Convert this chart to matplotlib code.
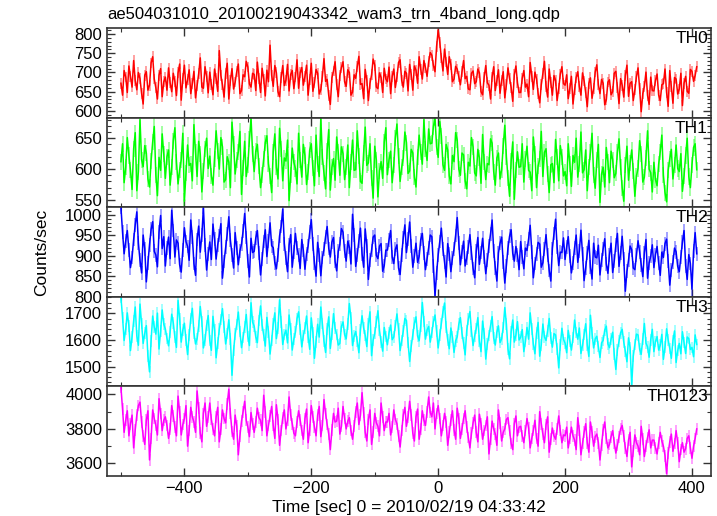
"""
WAM light curve, 4 energy bands plus the sum (QDP style stacked panels).
"""

import numpy as np
import matplotlib
matplotlib.use("Agg")
import matplotlib.pyplot as plt
from matplotlib.ticker import MultipleLocator


# =========================
# Data (2.5 s bins)
# =========================
T_START = -500
T_STEP = 2.5
TITLE = "ae504031010_20100219043342_wam3_trn_4band_long.qdp"
XLABEL = "Time [sec] 0 = 2010/02/19 04:33:42"
YLABEL = "Counts/sec"

TH0 = [
    672, 641, 705, 688, 648, 717, 690, 662, 731, 679, 655, 700, 684, 646,
    618, 693, 702, 654, 667, 725, 741, 683, 660, 631, 693, 710, 637, 676,
    688, 654, 712, 673, 650, 698, 676, 640, 699, 722, 628, 685, 719, 660,
    681, 707, 645, 671, 703, 634, 666, 697, 738, 662, 659, 715, 690, 647,
    701, 668, 642, 709, 684, 651, 757, 692, 668, 636, 697, 724, 631, 679,
    710, 657, 675, 702, 722, 645, 653, 694, 689, 729, 714, 670, 662, 698,
    695, 653, 727, 684, 648, 711, 683, 639, 706, 676, 771, 693, 664, 718,
    699, 650, 637, 687, 718, 666, 680, 721, 652, 695, 705, 658, 688, 733,
    659, 700, 713, 667, 690, 719, 641, 682, 724, 651, 673, 708, 698, 644,
    655, 690, 736, 677, 682, 640, 617, 686, 704, 728, 669, 637, 692, 713,
    728, 676, 664, 707, 700, 641, 649, 694, 685, 716, 742, 669, 671, 632,
    708, 680, 627, 672, 694, 735, 719, 662, 658, 699, 687, 648, 711, 683,
    676, 714, 645, 690, 709, 661, 688, 726, 733, 679, 662, 703, 698, 652,
    721, 695, 654, 717, 706, 672, 741, 708, 683, 731, 712, 690, 728, 752,
    745, 718, 702, 768, 810, 779, 738, 704, 761, 727, 695, 741, 720, 676,
    683, 716, 709, 689, 668, 702, 731, 684, 690, 657, 655, 698, 704, 671,
    676, 709, 699, 650, 642, 688, 718, 673, 667, 631, 688, 715, 653, 679,
    707, 646, 679, 702, 634, 668, 712, 684, 661, 625, 694, 717, 673, 648,
    648, 685, 705, 662, 670, 637, 726, 690, 656, 701, 683, 645, 621, 668,
    697, 729, 664, 636, 709, 673, 641, 692, 680, 627, 659, 696, 715, 671,
    667, 694, 632, 659, 690, 618, 655, 687, 702, 664, 641, 699, 678, 647,
    611, 672, 686, 633, 658, 701, 720, 668, 645, 682, 672, 616, 629, 675,
    681, 642, 650, 698, 703, 661, 619, 684, 667, 636, 693, 719, 638, 672,
    676, 627, 655, 689, 712, 658, 598, 645, 664, 701, 640, 617, 688, 653,
    652, 679, 696, 641, 627, 668, 671, 709, 648, 612, 705, 663, 620, 687,
    683, 644, 657, 698, 614, 672, 690, 651, 646, 708, 703, 677, 692, 715,
]
TH1 = [
    612, 641, 578, 603, 651, 622, 598, 567, 633, 659, 565, 596, 680, 615,
    604, 638, 626, 584, 571, 613, 644, 669, 590, 557, 619, 598, 657, 624,
    585, 620, 631, 574, 603, 646, 667, 612, 576, 599, 615, 658, 548, 593,
    639, 606, 609, 581, 672, 627, 588, 645, 624, 563, 597, 633, 650, 601,
    621, 589, 574, 617, 662, 630, 600, 651, 636, 579, 583, 620, 611, 570,
    676, 641, 592, 614, 628, 661, 559, 602, 645, 588, 607, 648, 683, 625,
    596, 629, 640, 605, 570, 591, 617, 643, 654, 609, 589, 562, 628, 657,
    603, 584, 666, 632, 581, 618, 613, 647, 549, 590, 634, 611, 601, 576,
    658, 614, 587, 640, 622, 575, 596, 631, 641, 602, 573, 655, 609, 588,
    683, 619, 594, 568, 630, 664, 566, 603, 617, 582, 652, 627, 590, 636,
    625, 583, 604, 639, 570, 611, 647, 598, 599, 662, 621, 580, 577, 626,
    668, 606, 610, 641, 586, 553, 637, 615, 555, 597, 612, 585, 644, 667,
    591, 615, 629, 578, 606, 650, 673, 621, 580, 603, 618, 660, 643, 593,
    597, 632, 626, 587, 571, 619, 655, 628, 608, 680, 632, 614, 665, 641,
    642, 669, 683, 636, 619, 677, 654, 607, 598, 640, 631, 589, 576, 622,
    612, 659, 647, 600, 590, 626, 623, 581, 568, 611, 605, 651, 636, 594,
    589, 632, 618, 577, 656, 612, 583, 609, 607, 649, 642, 596, 574, 618,
    626, 584, 599, 637, 671, 620, 586, 556, 613, 644, 551, 598, 628, 603,
    604, 641, 579, 616, 637, 598, 595, 565, 652, 624, 570, 605, 616, 661,
    588, 627, 633, 592, 562, 607, 609, 578, 648, 619, 581, 638, 620, 589,
    596, 573, 641, 609, 572, 622, 611, 650, 587, 608, 660, 594, 599, 631,
    565, 604, 627, 658, 590, 569, 614, 640, 546, 592, 603, 571, 635, 612,
    578, 629, 615, 586, 593, 627, 649, 603, 570, 548, 606, 637, 582, 610,
    631, 597, 556, 589, 601, 646, 625, 579, 587, 618, 662, 600, 594, 563,
    611, 583, 573, 608, 628, 655, 590, 562, 547, 598, 617, 632, 584, 606,
    639, 601, 596, 625, 564, 589, 622, 650, 588, 570, 607, 635, 641, 599,
]
TH2 = [
    1019, 958, 905, 937, 962, 914, 871, 896, 940, 976, 1008, 931, 889, 858,
    951, 917, 836, 882, 927, 965, 984, 911, 902, 873, 958, 999, 918, 947,
    875, 920, 946, 893, 1012, 962, 897, 939, 931, 878, 860, 915, 969, 935,
    923, 889, 988, 947, 881, 852, 940, 973, 909, 951, 1019, 926, 865, 904,
    934, 891, 978, 941, 892, 927, 950, 979, 845, 886, 921, 954, 996, 938,
    903, 870, 957, 919, 878, 912, 929, 961, 1004, 945, 887, 848, 943, 908,
    911, 944, 962, 907, 853, 892, 935, 964, 898, 937, 981, 925, 920, 883,
    868, 903, 949, 972, 1015, 930, 894, 861, 926, 952, 872, 910, 955, 919,
    901, 869, 940, 913, 867, 905, 924, 958, 989, 929, 882, 850, 933, 902,
    851, 896, 916, 947, 972, 918, 897, 934, 945, 886, 863, 911, 928, 967,
    958, 912, 887, 936, 921, 880, 1002, 951, 874, 903, 937, 968, 905, 872,
    966, 925, 842, 889, 913, 946, 951, 901, 893, 924, 930, 862, 876, 914,
    914, 939, 962, 897, 881, 916, 927, 870, 854, 903, 945, 976, 908, 941,
    983, 924, 872, 899, 931, 884, 898, 940, 955, 906, 866, 893, 920, 951,
    947, 876, 801, 858, 902, 935, 968, 917, 885, 848, 930, 904, 861, 895,
    917, 950, 994, 931, 878, 910, 936, 875, 894, 921, 952, 907, 869, 846,
    912, 945, 879, 908, 943, 897, 856, 889, 925, 954, 988, 912, 871, 838,
    907, 931, 946, 884, 833, 876, 919, 948, 964, 906, 887, 923, 901, 866,
    935, 897, 868, 919, 913, 941, 975, 910, 846, 881, 904, 933, 929, 872,
    883, 917, 952, 902, 864, 838, 918, 955, 990, 921, 876, 909, 908, 944,
    891, 922, 947, 899, 858, 883, 920, 951, 884, 912, 963, 905, 839, 871,
    906, 938, 872, 843, 931, 897, 895, 926, 853, 889, 917, 942, 880, 857,
    902, 931, 859, 887, 926, 955, 874, 906, 948, 893, 813, 862, 889, 924,
    915, 870, 866, 901, 937, 910, 878, 849, 908, 940, 845, 883, 899, 927,
    871, 903, 923, 882, 852, 909, 896, 930, 941, 887, 828, 866, 884, 919,
    910, 874, 861, 898, 934, 962, 876, 842, 903, 881, 818, 912, 957, 905,
]
TH3 = [
    1760, 1685, 1598, 1641, 1702, 1653, 1560, 1612, 1671, 1724, 1615, 1580, 1735, 1662,
    1587, 1625, 1654, 1539, 1480, 1597, 1690, 1648, 1622, 1701, 1566, 1634, 1713, 1659,
    1641, 1606, 1578, 1630, 1697, 1664, 1610, 1572, 1749, 1680, 1592, 1637, 1663, 1599,
    1545, 1618, 1681, 1719, 1627, 1585, 1604, 1652, 1726, 1669, 1570, 1601, 1655, 1692,
    1598, 1561, 1689, 1637, 1533, 1588, 1640, 1677, 1718, 1649, 1585, 1624, 1676, 1603,
    1467, 1560, 1622, 1658, 1705, 1632, 1571, 1609, 1648, 1696, 1613, 1579, 1740, 1667,
    1652, 1611, 1590, 1673, 1728, 1656, 1618, 1577, 1685, 1631, 1547, 1598, 1660, 1702,
    1605, 1645, 1751, 1668, 1583, 1620, 1637, 1589, 1694, 1641, 1562, 1603, 1629, 1680,
    1706, 1639, 1574, 1617, 1645, 1690, 1612, 1565, 1683, 1628, 1531, 1593, 1659, 1611,
    1724, 1662, 1596, 1553, 1641, 1687, 1568, 1622, 1699, 1644, 1620, 1581, 1587, 1651,
    1668, 1620, 1604, 1659, 1737, 1682, 1579, 1614, 1632, 1594, 1552, 1638, 1691, 1645,
    1617, 1575, 1660, 1706, 1541, 1599, 1625, 1667, 1710, 1636, 1593, 1558, 1647, 1613,
    1582, 1627, 1656, 1601, 1611, 1655, 1698, 1642, 1560, 1598, 1634, 1681, 1673, 1590,
    1519, 1576, 1620, 1663, 1687, 1615, 1597, 1652, 1741, 1670, 1603, 1638, 1651, 1592,
    1628, 1669, 1694, 1633, 1570, 1618, 1662, 1706, 1739, 1650, 1601, 1567, 1645, 1610,
    1553, 1597, 1612, 1659, 1684, 1626, 1588, 1544, 1636, 1678, 1707, 1632, 1579, 1616,
    1643, 1684, 1595, 1556, 1671, 1624, 1528, 1586, 1617, 1652, 1688, 1607, 1581, 1630,
    1653, 1590, 1604, 1647, 1722, 1661, 1566, 1529, 1631, 1675, 1592, 1619, 1669, 1600,
    1610, 1639, 1556, 1594, 1647, 1603, 1702, 1641, 1584, 1548, 1625, 1666, 1539, 1582,
    1660, 1611, 1598, 1635, 1681, 1607, 1573, 1624, 1619, 1566, 1495, 1580, 1644, 1602,
    1588, 1552, 1636, 1597, 1562, 1609, 1675, 1628, 1603, 1645, 1549, 1580, 1620, 1661,
    1581, 1538, 1693, 1626, 1570, 1604, 1614, 1575, 1534, 1589, 1598, 1637, 1652, 1585,
    1571, 1604, 1629, 1546, 1489, 1563, 1595, 1627, 1640, 1592, 1557, 1518, 1608, 1571,
    1430, 1539, 1583, 1622, 1619, 1565, 1546, 1603, 1662, 1588, 1574, 1535, 1601, 1640,
    1556, 1594, 1613, 1562, 1580, 1621, 1527, 1573, 1642, 1600, 1568, 1531, 1598, 1634,
    1515, 1560, 1587, 1548, 1631, 1590, 1549, 1611, 1605, 1564, 1572, 1537, 1619, 1583,
]
TH0123 = [
    4040, 3915, 3780, 3850, 3905, 3760, 3830, 3880, 3690, 3795, 3880, 3935, 3955, 3840,
    3760, 3710, 3850, 3905, 3620, 3745, 3910, 3860, 3820, 3765, 3975, 3890, 3790, 3850,
    3870, 3820, 3745, 3800, 3935, 3875, 3810, 3760, 3990, 3900, 3765, 3825, 3860, 3935,
    3700, 3790, 3925, 3870, 3840, 3780, 4020, 3920, 3775, 3725, 3890, 3950, 3815, 3870,
    3950, 3855, 3800, 3760, 3870, 3925, 3725, 3800, 3910, 3860, 3835, 3945, 4030, 3890,
    3785, 3740, 3880, 3815, 3650, 3760, 3845, 3900, 3960, 3850, 3810, 3755, 3895, 3830,
    3780, 3840, 3920, 3865, 3850, 3790, 3995, 3900, 3760, 3820, 3875, 3930, 3820, 3745,
    3940, 3855, 3705, 3790, 3865, 3910, 3800, 3850, 3985, 3880, 3830, 3775, 3760, 3840,
    3905, 3850, 3790, 3740, 3860, 3915, 3720, 3795, 3935, 3870, 3810, 3760, 3880, 3930,
    3755, 3820, 3970, 3890, 3825, 3770, 3680, 3795, 3890, 3840, 3845, 3920, 3770, 3815,
    3930, 3860, 3800, 3845, 3865, 3790, 3740, 3815, 3900, 3950, 3825, 3880, 4010, 3895,
    3780, 3730, 3855, 3910, 3710, 3780, 3890, 3835, 3815, 3760, 3950, 3870, 3790, 3840,
    3840, 3890, 3765, 3810, 3910, 3855, 3830, 3760, 3695, 3790, 3880, 3925, 3815, 3870,
    3960, 3880, 3775, 3730, 3870, 3915, 3740, 3800, 3905, 3850, 3820, 3900, 3985, 3895,
    3870, 3950, 3800, 3890, 3935, 3860, 3760, 3820, 3890, 3840, 3705, 3780, 3850, 3905,
    3795, 3740, 3920, 3860, 3745, 3800, 3860, 3905, 3810, 3750, 3690, 3775, 3835, 3880,
    3780, 3725, 3885, 3830, 3740, 3790, 3820, 3870, 3655, 3740, 3845, 3800, 3770, 3705,
    3910, 3835, 3730, 3780, 3800, 3855, 3865, 3790, 3715, 3680, 3830, 3875, 3760, 3810,
    3815, 3760, 3720, 3790, 3860, 3805, 3690, 3745, 3790, 3850, 3745, 3700, 3900, 3830,
    3770, 3720, 3825, 3870, 3665, 3740, 3805, 3760, 3740, 3800, 3875, 3790, 3720, 3765,
    3760, 3810, 3690, 3745, 3810, 3760, 3735, 3680, 3865, 3790, 3650, 3715, 3780, 3830,
    3720, 3665, 3840, 3780, 3700, 3755, 3770, 3720, 3620, 3705, 3795, 3840, 3745, 3690,
    3710, 3755, 3790, 3720, 3660, 3705, 3755, 3800, 3820, 3760, 3690, 3640, 3735, 3780,
    3580, 3670, 3765, 3720, 3700, 3650, 3815, 3740, 3640, 3700, 3750, 3795, 3690, 3735,
    3735, 3690, 3655, 3720, 3780, 3730, 3700, 3645, 3540, 3660, 3725, 3770, 3670, 3715,
    3790, 3720, 3610, 3680, 3720, 3665, 3685, 3745, 3760, 3690, 3630, 3700, 3745, 3800,
]

BAND_NAMES = ["TH0", "TH1", "TH2", "TH3", "TH0123"]
BAND_RATES = [TH0, TH1, TH2, TH3, TH0123]
BAND_ERRORS = [14, 13, 17, 22, 34]        # typical 1-sigma error per bin

# =========================
# Styling per panel
# =========================
COLORS = ["#ff0000", "#00ff00", "#0000ff", "#00ffff", "#ff00ff"]
YLIMS = [(582, 815), (538, 683), (799, 1019), (1425, 1762), (3527, 4046)]
YMAJOR = [50, 50, 50, 100, 200]
YMINOR = [10, 10, 10, 20, 100]
XLIM = (-522, 430)

plt.rcParams["font.family"] = ["Liberation Sans", "DejaVu Sans"]


def draw_panel(ax, time, rate, err, color, name, ylim, ymaj, ymin):
    ax.errorbar(time, rate, yerr=err, fmt="none", ecolor=color,
                elinewidth=1.3, alpha=0.4, capsize=0)
    ax.plot(time, rate, color=color, linewidth=1.1)
    ax.set_xlim(*XLIM)
    ax.set_ylim(*ylim)
    ax.yaxis.set_major_locator(MultipleLocator(ymaj))
    ax.yaxis.set_minor_locator(MultipleLocator(ymin))
    ax.xaxis.set_major_locator(MultipleLocator(200))
    ax.xaxis.set_minor_locator(MultipleLocator(100))
    ax.tick_params(which="both", direction="in", top=True, right=True,
                   labelsize=12, colors="#333333", labelcolor="black")
    ax.tick_params(which="major", length=6, width=1.0)
    ax.tick_params(which="minor", length=3, width=0.8)
    for sp in ax.spines.values():
        sp.set_linewidth(1.2)
        sp.set_color("#333333")
        sp.set_zorder(5)
    ax.text(0.995, 0.97, name, transform=ax.transAxes, ha="right", va="top",
            fontsize=12.5, zorder=6)


def main():
    time = T_START + T_STEP * np.arange(len(TH0))

    fig = plt.figure(figsize=(7.17, 5.16), dpi=100)
    left, right = 107 / 717, 711 / 717
    top, bottom = 1 - 28.3 / 516, 1 - 476 / 516
    h = (top - bottom) / len(BAND_NAMES)

    axes = []
    for i, (name, rate) in enumerate(zip(BAND_NAMES, BAND_RATES)):
        ax = fig.add_axes([left, top - (i + 1) * h, right - left, h])
        draw_panel(ax, time, rate, BAND_ERRORS[i], COLORS[i], name,
                   YLIMS[i], YMAJOR[i], YMINOR[i])
        if i < len(BAND_NAMES) - 1:
            ax.tick_params(labelbottom=False)
        axes.append(ax)

    axes[-1].set_xlabel(XLABEL, fontsize=12.5, labelpad=3)
    fig.text(0.0586, (top + bottom) / 2, YLABEL, rotation=90,
             ha="center", va="center", fontsize=12.5)
    fig.text(left, 1 - 14 / 516, TITLE, ha="left", va="center", fontsize=12)

    fig.savefig("out.png", dpi=100)
    plt.close(fig)


if __name__ == "__main__":
    main()
